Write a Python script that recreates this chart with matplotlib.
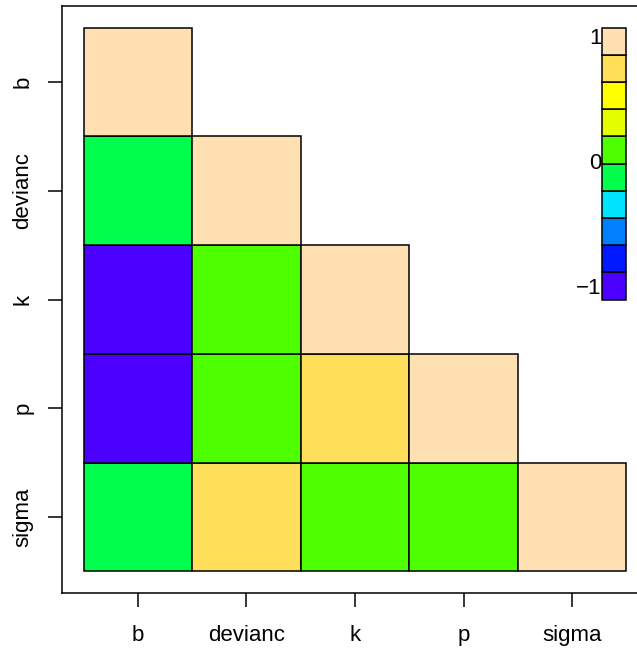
import numpy as np
import matplotlib
matplotlib.use("Agg")
import matplotlib.pyplot as plt

plt.rcParams['font.family'] = ['Liberation Sans', 'DejaVu Sans']

# variable names (abbreviated as in the original)
varnames = ["b", "devianc", "k", "p", "sigma"]

# cross-correlations (row variable vs column variable)
corr_b = [1.0, -0.1, -0.9, -0.9, -0.1]
corr_devianc = [-0.1, 1.0, 0.1, 0.1, 0.7]
corr_k = [-0.9, 0.1, 1.0, 0.7, 0.1]
corr_p = [-0.9, 0.1, 0.7, 1.0, 0.1]
corr_sigma = [-0.1, 0.7, 0.1, 0.1, 1.0]

# topo.colors(10) from R, -1 -> 1
topo_cols = ["#4C00FF", "#0019FF", "#0080FF", "#00E5FF", "#00FF4D",
             "#4DFF00", "#E6FF00", "#FFFF00", "#FFDE59", "#FFE0B3"]

pcorr = np.array([corr_b, corr_devianc, corr_k, corr_p, corr_sigma])
nvar = len(varnames)
ncol = len(topo_cols)


def colour_of(r):
    idx = int(np.ceil((r + 1) * ncol / 2.0)) - 1
    idx = min(max(idx, 0), ncol - 1)
    return topo_cols[idx]


fig = plt.figure(figsize=(6.37, 6.48), dpi=100)
ax = fig.add_axes([62 / 637, 55 / 648, 586 / 637, 587 / 648])

# lower triangle: row cl (from bottom), column rw
for cl in range(1, nvar + 1):
    yvar = nvar - cl            # index of the y variable (b on top)
    for rw in range(1, nvar - cl + 2):
        xvar = rw - 1
        ax.bar(rw - 0.5, 1, width=1, bottom=cl - 1,
               color=colour_of(pcorr[yvar, xvar]), edgecolor="black", linewidth=1.1)

# colour legend
yval = np.linspace(nvar / 2, nvar, ncol + 1)
ydelta = nvar / (2 * (ncol + 1))
for i in range(ncol):
    ax.bar(nvar - ydelta / 2, yval[i + 1] - yval[i], width=ydelta, bottom=yval[i],
           color=topo_cols[i], edgecolor="black", linewidth=1.1)

fs = 16
ax.text(nvar - ydelta, nvar, "1", ha="right", va="top", fontsize=fs)
ax.text(nvar - ydelta, 0.5 * nvar, "\u22121", ha="right", va="bottom", fontsize=fs)
ax.text(nvar - ydelta, 0.75 * nvar, "0", ha="right", va="center", fontsize=fs)

ax.set_xlim(-0.04 * nvar, nvar * 1.04)
ax.set_ylim(-0.04 * nvar, nvar * 1.04)

ax.set_xticks(np.arange(1, nvar + 1) - 0.5)
ax.set_xticklabels(varnames, fontsize=fs)
ax.set_yticks(np.arange(nvar, 0, -1) - 0.5)
ax.set_yticklabels(varnames, fontsize=fs, rotation=90, va="center")
ax.tick_params(length=10, width=1.1)
ax.tick_params(axis="x", pad=13)
ax.tick_params(axis="y", pad=10.5)
for s in ax.spines.values():
    s.set_linewidth(1.1)

fig.savefig("out.png", dpi=100)
